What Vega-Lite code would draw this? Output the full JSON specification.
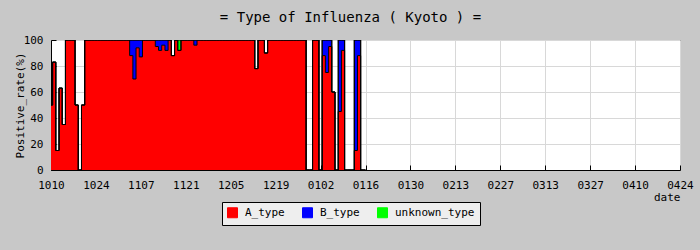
{
  "$schema": "https://vega.github.io/schema/vega-lite/v6.json",
  "width": 629,
  "height": 130,
  "autosize": {"type": "none"},
  "padding": {"left": 51, "top": 40, "right": 20, "bottom": 80},
  "background": "#c8c8c8",
  "title": {
    "text": "= Type of Influenza ( Kyoto ) =",
    "font": "DejaVu Sans Mono",
    "fontSize": 14,
    "fontWeight": "normal",
    "color": "black",
    "anchor": "middle",
    "frame": "group",
    "dx": -15,
    "dy": 20,
    "baseline": "alphabetic",
    "offset": 18
  },
  "data": {
    "values": [
      {"date": "2022-10-10", "A_type": 50, "B_type": 0, "unknown_type": 0},
      {"date": "2022-10-11", "A_type": 83, "B_type": 0, "unknown_type": 0},
      {"date": "2022-10-12", "A_type": 15, "B_type": 0, "unknown_type": 0},
      {"date": "2022-10-13", "A_type": 63, "B_type": 0, "unknown_type": 0},
      {"date": "2022-10-14", "A_type": 35, "B_type": 0, "unknown_type": 0},
      {"date": "2022-10-15", "A_type": 100, "B_type": 0, "unknown_type": 0},
      {"date": "2022-10-16", "A_type": 100, "B_type": 0, "unknown_type": 0},
      {"date": "2022-10-17", "A_type": 100, "B_type": 0, "unknown_type": 0},
      {"date": "2022-10-18", "A_type": 50, "B_type": 0, "unknown_type": 0},
      {"date": "2022-10-19", "A_type": 0, "B_type": 0, "unknown_type": 0},
      {"date": "2022-10-20", "A_type": 50, "B_type": 0, "unknown_type": 0},
      {"date": "2022-10-21", "A_type": 100, "B_type": 0, "unknown_type": 0},
      {"date": "2022-10-22", "A_type": 100, "B_type": 0, "unknown_type": 0},
      {"date": "2022-10-23", "A_type": 100, "B_type": 0, "unknown_type": 0},
      {"date": "2022-10-24", "A_type": 100, "B_type": 0, "unknown_type": 0},
      {"date": "2022-10-25", "A_type": 100, "B_type": 0, "unknown_type": 0},
      {"date": "2022-10-26", "A_type": 100, "B_type": 0, "unknown_type": 0},
      {"date": "2022-10-27", "A_type": 100, "B_type": 0, "unknown_type": 0},
      {"date": "2022-10-28", "A_type": 100, "B_type": 0, "unknown_type": 0},
      {"date": "2022-10-29", "A_type": 100, "B_type": 0, "unknown_type": 0},
      {"date": "2022-10-30", "A_type": 100, "B_type": 0, "unknown_type": 0},
      {"date": "2022-10-31", "A_type": 100, "B_type": 0, "unknown_type": 0},
      {"date": "2022-11-01", "A_type": 100, "B_type": 0, "unknown_type": 0},
      {"date": "2022-11-02", "A_type": 100, "B_type": 0, "unknown_type": 0},
      {"date": "2022-11-03", "A_type": 100, "B_type": 0, "unknown_type": 0},
      {"date": "2022-11-04", "A_type": 88, "B_type": 12, "unknown_type": 0},
      {"date": "2022-11-05", "A_type": 70, "B_type": 30, "unknown_type": 0},
      {"date": "2022-11-06", "A_type": 94, "B_type": 6, "unknown_type": 0},
      {"date": "2022-11-07", "A_type": 87, "B_type": 13, "unknown_type": 0},
      {"date": "2022-11-08", "A_type": 100, "B_type": 0, "unknown_type": 0},
      {"date": "2022-11-09", "A_type": 100, "B_type": 0, "unknown_type": 0},
      {"date": "2022-11-10", "A_type": 100, "B_type": 0, "unknown_type": 0},
      {"date": "2022-11-11", "A_type": 100, "B_type": 0, "unknown_type": 0},
      {"date": "2022-11-12", "A_type": 95, "B_type": 5, "unknown_type": 0},
      {"date": "2022-11-13", "A_type": 92, "B_type": 8, "unknown_type": 0},
      {"date": "2022-11-14", "A_type": 96, "B_type": 4, "unknown_type": 0},
      {"date": "2022-11-15", "A_type": 92, "B_type": 8, "unknown_type": 0},
      {"date": "2022-11-16", "A_type": 100, "B_type": 0, "unknown_type": 0},
      {"date": "2022-11-17", "A_type": 88, "B_type": 0, "unknown_type": 0},
      {"date": "2022-11-18", "A_type": 100, "B_type": 0, "unknown_type": 0},
      {"date": "2022-11-19", "A_type": 92, "B_type": 0, "unknown_type": 8},
      {"date": "2022-11-20", "A_type": 100, "B_type": 0, "unknown_type": 0},
      {"date": "2022-11-21", "A_type": 100, "B_type": 0, "unknown_type": 0},
      {"date": "2022-11-22", "A_type": 100, "B_type": 0, "unknown_type": 0},
      {"date": "2022-11-23", "A_type": 100, "B_type": 0, "unknown_type": 0},
      {"date": "2022-11-24", "A_type": 96, "B_type": 4, "unknown_type": 0},
      {"date": "2022-11-25", "A_type": 100, "B_type": 0, "unknown_type": 0},
      {"date": "2022-11-26", "A_type": 100, "B_type": 0, "unknown_type": 0},
      {"date": "2022-11-27", "A_type": 100, "B_type": 0, "unknown_type": 0},
      {"date": "2022-11-28", "A_type": 100, "B_type": 0, "unknown_type": 0},
      {"date": "2022-11-29", "A_type": 100, "B_type": 0, "unknown_type": 0},
      {"date": "2022-11-30", "A_type": 100, "B_type": 0, "unknown_type": 0},
      {"date": "2022-12-01", "A_type": 100, "B_type": 0, "unknown_type": 0},
      {"date": "2022-12-02", "A_type": 100, "B_type": 0, "unknown_type": 0},
      {"date": "2022-12-03", "A_type": 100, "B_type": 0, "unknown_type": 0},
      {"date": "2022-12-04", "A_type": 100, "B_type": 0, "unknown_type": 0},
      {"date": "2022-12-05", "A_type": 100, "B_type": 0, "unknown_type": 0},
      {"date": "2022-12-06", "A_type": 100, "B_type": 0, "unknown_type": 0},
      {"date": "2022-12-07", "A_type": 100, "B_type": 0, "unknown_type": 0},
      {"date": "2022-12-08", "A_type": 100, "B_type": 0, "unknown_type": 0},
      {"date": "2022-12-09", "A_type": 100, "B_type": 0, "unknown_type": 0},
      {"date": "2022-12-10", "A_type": 100, "B_type": 0, "unknown_type": 0},
      {"date": "2022-12-11", "A_type": 100, "B_type": 0, "unknown_type": 0},
      {"date": "2022-12-12", "A_type": 100, "B_type": 0, "unknown_type": 0},
      {"date": "2022-12-13", "A_type": 78, "B_type": 0, "unknown_type": 0},
      {"date": "2022-12-14", "A_type": 100, "B_type": 0, "unknown_type": 0},
      {"date": "2022-12-15", "A_type": 100, "B_type": 0, "unknown_type": 0},
      {"date": "2022-12-16", "A_type": 90, "B_type": 0, "unknown_type": 0},
      {"date": "2022-12-17", "A_type": 100, "B_type": 0, "unknown_type": 0},
      {"date": "2022-12-18", "A_type": 100, "B_type": 0, "unknown_type": 0},
      {"date": "2022-12-19", "A_type": 100, "B_type": 0, "unknown_type": 0},
      {"date": "2022-12-20", "A_type": 100, "B_type": 0, "unknown_type": 0},
      {"date": "2022-12-21", "A_type": 100, "B_type": 0, "unknown_type": 0},
      {"date": "2022-12-22", "A_type": 100, "B_type": 0, "unknown_type": 0},
      {"date": "2022-12-23", "A_type": 100, "B_type": 0, "unknown_type": 0},
      {"date": "2022-12-24", "A_type": 100, "B_type": 0, "unknown_type": 0},
      {"date": "2022-12-25", "A_type": 100, "B_type": 0, "unknown_type": 0},
      {"date": "2022-12-26", "A_type": 100, "B_type": 0, "unknown_type": 0},
      {"date": "2022-12-27", "A_type": 100, "B_type": 0, "unknown_type": 0},
      {"date": "2022-12-28", "A_type": 100, "B_type": 0, "unknown_type": 0},
      {"date": "2022-12-29", "A_type": 0, "B_type": 0, "unknown_type": 0},
      {"date": "2022-12-30", "A_type": 0, "B_type": 0, "unknown_type": 0},
      {"date": "2022-12-31", "A_type": 100, "B_type": 0, "unknown_type": 0},
      {"date": "2023-01-01", "A_type": 100, "B_type": 0, "unknown_type": 0},
      {"date": "2023-01-02", "A_type": 0, "B_type": 0, "unknown_type": 0},
      {"date": "2023-01-03", "A_type": 88, "B_type": 12, "unknown_type": 0},
      {"date": "2023-01-04", "A_type": 75, "B_type": 25, "unknown_type": 0},
      {"date": "2023-01-05", "A_type": 95, "B_type": 5, "unknown_type": 0},
      {"date": "2023-01-06", "A_type": 60, "B_type": 0, "unknown_type": 0},
      {"date": "2023-01-07", "A_type": 0, "B_type": 0, "unknown_type": 0},
      {"date": "2023-01-08", "A_type": 45, "B_type": 55, "unknown_type": 0},
      {"date": "2023-01-09", "A_type": 92, "B_type": 8, "unknown_type": 0},
      {"date": "2023-01-10", "A_type": 0, "B_type": 0, "unknown_type": 0},
      {"date": "2023-01-11", "A_type": 0, "B_type": 0, "unknown_type": 0},
      {"date": "2023-01-12", "A_type": 0, "B_type": 0, "unknown_type": 0},
      {"date": "2023-01-13", "A_type": 15, "B_type": 85, "unknown_type": 0},
      {"date": "2023-01-14", "A_type": 88, "B_type": 12, "unknown_type": 0},
      {"date": "2023-01-15", "A_type": 0, "B_type": 0, "unknown_type": 0},
      {"date": "2023-01-16", "A_type": 0, "B_type": 0, "unknown_type": 0}
    ]
  },
  "transform": [
    {"fold": ["A_type", "B_type", "unknown_type"], "as": ["type", "rate"]}
  ],
  "mark": {
    "type": "area",
    "interpolate": "step",
    "clip": true,
    "opacity": 1,
    "line": {"stroke": "black", "strokeWidth": 1}
  },
  "encoding": {
    "x": {
      "field": "date",
      "type": "temporal",
      "scale": {
        "type": "utc",
        "domain": [
          {"year": 2022, "month": 10, "date": 10, "utc": true},
          {"year": 2023, "month": 4, "date": 24, "utc": true}
        ]
      },
      "axis": {
        "values": [
          {"year": 2022, "month": 10, "date": 10, "utc": true},
          {"year": 2022, "month": 10, "date": 24, "utc": true},
          {"year": 2022, "month": 11, "date": 7, "utc": true},
          {"year": 2022, "month": 11, "date": 21, "utc": true},
          {"year": 2022, "month": 12, "date": 5, "utc": true},
          {"year": 2022, "month": 12, "date": 19, "utc": true},
          {"year": 2023, "month": 1, "date": 2, "utc": true},
          {"year": 2023, "month": 1, "date": 16, "utc": true},
          {"year": 2023, "month": 1, "date": 30, "utc": true},
          {"year": 2023, "month": 2, "date": 13, "utc": true},
          {"year": 2023, "month": 2, "date": 27, "utc": true},
          {"year": 2023, "month": 3, "date": 13, "utc": true},
          {"year": 2023, "month": 3, "date": 27, "utc": true},
          {"year": 2023, "month": 4, "date": 10, "utc": true},
          {"year": 2023, "month": 4, "date": 24, "utc": true}
        ],
        "labelExpr": "utcFormat(datum.value, '%m%d')",
        "title": "date",
        "titleX": 629,
        "titleY": 21,
        "titleAlign": "right",
        "titleAnchor": "end",
        "titleBaseline": "top",
        "titleFont": "DejaVu Sans Mono",
        "titleFontSize": 11,
        "titleFontWeight": "normal",
        "titleColor": "black",
        "labelFont": "DejaVu Sans Mono",
        "labelFontSize": 11,
        "labelColor": "black",
        "labelAngle": 0,
        "labelAlign": "center",
        "labelPadding": 14,
        "labelOverlap": false,
        "labelFlush": false,
        "tickSize": -5,
        "tickColor": "black",
        "domainColor": "black",
        "grid": true,
        "gridColor": "#d8d8d8"
      }
    },
    "y": {
      "field": "rate",
      "type": "quantitative",
      "stack": "zero",
      "scale": {"domain": [0, 100], "nice": false},
      "axis": {
        "values": [0, 20, 40, 60, 80, 100],
        "title": "Positive_rate(%)",
        "titleX": -31,
        "titleY": 65,
        "titleAngle": -90,
        "titleAlign": "center",
        "titleBaseline": "middle",
        "titleFont": "DejaVu Sans Mono",
        "titleFontSize": 11,
        "titleFontWeight": "normal",
        "titleColor": "black",
        "labelFont": "DejaVu Sans Mono",
        "labelFontSize": 11,
        "labelColor": "black",
        "labelPadding": 13,
        "tickSize": -5,
        "tickColor": "black",
        "domainColor": "black",
        "grid": true,
        "gridColor": "#d8d8d8"
      }
    },
    "order": {"field": "type", "sort": "ascending"},
    "color": {
      "field": "type",
      "type": "nominal",
      "scale": {
        "domain": ["A_type", "B_type", "unknown_type"],
        "range": ["#ff0000", "#0000ff", "#00ff00"]
      },
      "legend": {
        "title": null,
        "orient": "none",
        "legendX": 171,
        "legendY": 162,
        "direction": "horizontal",
        "symbolType": "square",
        "symbolSize": 100,
        "symbolStrokeColor": "black",
        "symbolStrokeWidth": 1,
        "symbolOpacity": 1,
        "labelFont": "DejaVu Sans Mono",
        "labelFontSize": 11,
        "labelColor": "black",
        "labelOffset": 7,
        "columnPadding": 15,
        "padding": 5,
        "fillColor": "#eeeeee",
        "strokeColor": "black"
      }
    }
  },
  "config": {
    "view": {"stroke": "black", "strokeWidth": 1, "fill": "white"}
  }
}
